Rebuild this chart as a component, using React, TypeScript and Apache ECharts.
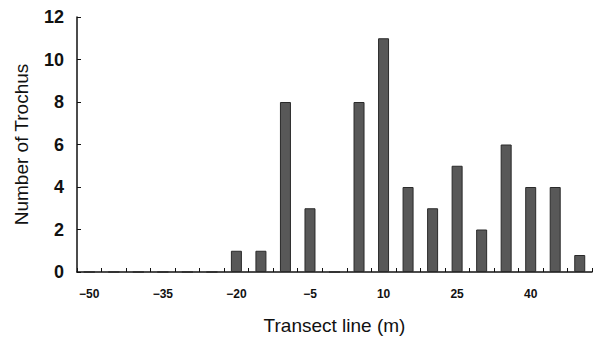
import React, { useEffect, useRef } from "react";
import * as echarts from "echarts";

const categories = ["-50","-45","-40","-35","-30","-25","-20","-15","-10","-5","0","5","10","15","20","25","30","35","40","45","50"];
const counts = [0,0,0,0,0,0,1,1,8,3,0,8,11,4,3,5,2,6,4,4,0.8];
const yTicks = { min: 0, max: 12, interval: 2 };

export default function App() {
  const ref = useRef<HTMLDivElement>(null);
  useEffect(() => {
    const chart = echarts.init(ref.current!, null, { renderer: "svg" });
    const font = "'Liberation Sans', Arial, sans-serif";
    chart.setOption({
      animation: false,
      backgroundColor: "#ffffff",
      grid: { left: 77, right: 7, top: 17, bottom: 65 },
      xAxis: {
        type: "category",
        data: categories,
        boundaryGap: true,
        name: "Transect line (m)",
        nameLocation: "middle",
        nameGap: 44,
        nameTextStyle: { fontFamily: font, fontSize: 19, color: "#111" },
        axisLine: { lineStyle: { color: "#111", width: 1.5 } },
        axisTick: { show: true, inside: true, length: 4, interval: 0, lineStyle: { color: "#111" } },
        axisLabel: {
          interval: 2,
          margin: 16,
          fontFamily: font,
          fontSize: 12,
          fontWeight: "bold",
          color: "#111",
          formatter: (v: string) => v.replace("-", "\u2212"),
        },
        splitLine: { show: false },
      },
      yAxis: {
        type: "value",
        min: yTicks.min,
        max: yTicks.max,
        interval: yTicks.interval,
        name: "Number of Trochus",
        nameLocation: "middle",
        nameGap: 46,
        nameRotate: 90,
        nameTextStyle: { fontFamily: font, fontSize: 19, color: "#111" },
        axisLine: { show: true, lineStyle: { color: "#111", width: 1.5 } },
        axisTick: { show: true, inside: true, length: 4, lineStyle: { color: "#111" } },
        axisLabel: { margin: 13, fontFamily: font, fontSize: 18, fontWeight: "bold", color: "#111" },
        splitLine: { show: false },
      },
      series: [
        {
          type: "bar",
          data: counts,
          barWidth: 11,
          itemStyle: { color: "#585858", borderColor: "#2a2a2a", borderWidth: 1 },
        },
      ],
    });
    return () => chart.dispose();
  }, []);
  return <div ref={ref} style={{ width: 599, height: 340, position: "absolute", left: 0, top: 0 }} />;
}
